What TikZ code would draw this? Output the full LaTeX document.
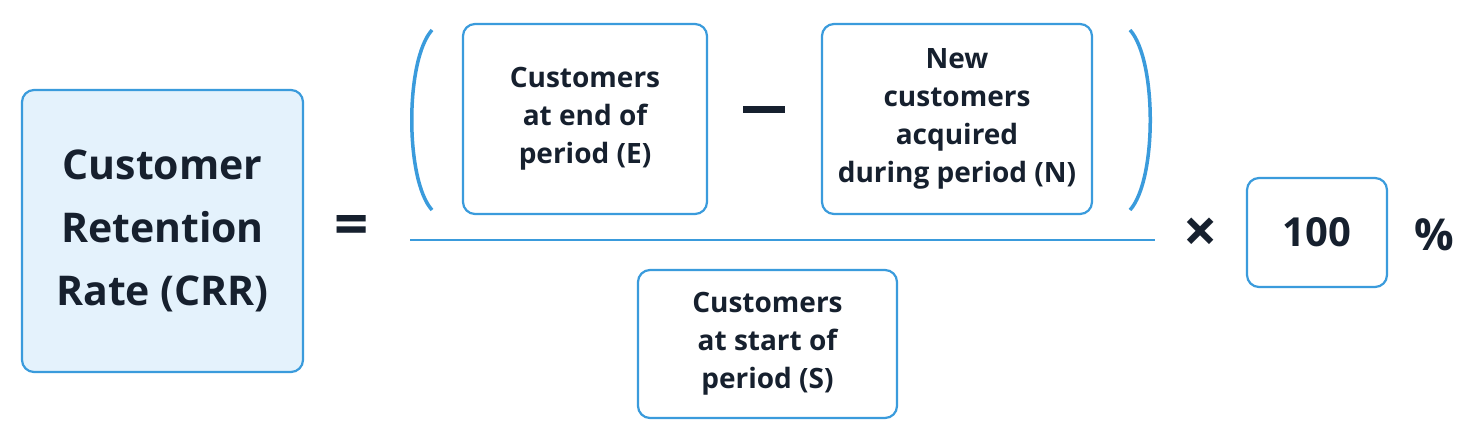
\documentclass[tikz,border=0pt]{standalone}
\usepackage{fontspec}
\setmainfont{Open Sans}
\definecolor{bl}{HTML}{3A9BDC}
\definecolor{lb}{HTML}{E4F2FC}
\definecolor{tx}{HTML}{16202E}
\begin{document}
\begin{tikzpicture}[x=1pt,y=-1pt,
 box/.style={draw=bl,line width=2.2pt,rounded corners=12pt,fill=white,text=tx,align=center,font=\bfseries\fontsize{28}{38}\selectfont},
 sym/.style={text=tx,font=\bfseries\fontsize{60}{60}\selectfont}]
\useasboundingbox[fill=white] (0,0) rectangle (1479,441);
\node[box,fill=lb,minimum width=281pt,minimum height=282pt,font=\bfseries\fontsize{41}{63}\selectfont] (crr) at (162.5,231) {Customer\\Retention\\Rate (CRR)};
\node[sym] (eq) at (352,230) {=};
\node[box,minimum width=244pt,minimum height=190pt] (e) at (585,119) {Customers\\at end of\\period (E)};
\node[sym] (mi) at (764,110) {\rule{42pt}{7pt}};
\node[box,minimum width=270pt,minimum height=190pt] (n) at (957,119) {New\\customers\\acquired\\during period (N)};
\node[box,minimum width=259pt,minimum height=148pt] (s) at (767.5,344) {Customers\\at start of\\period (S)};
\coordinate (fl) at (410,240); \coordinate (fr) at (1155,240);
\draw[bl,line width=2.2pt] (fl) -- (fr);
\draw[bl,line width=3.5pt] (432,30) .. controls (405,60) and (405,180) .. (432,210);
\draw[bl,line width=3.5pt] (1130,30) .. controls (1157,60) and (1157,180) .. (1130,210);
\node[sym] (x) at (1201,235) {\char"00D7};
\node[box,minimum width=140pt,minimum height=109pt,font=\bfseries\fontsize{40}{44}\selectfont] (h) at (1317,232.5) {100};
\node[sym,font=\bfseries\fontsize{44}{44}\selectfont] (p) at (1434,235) {\%};
\end{tikzpicture}
\end{document}
